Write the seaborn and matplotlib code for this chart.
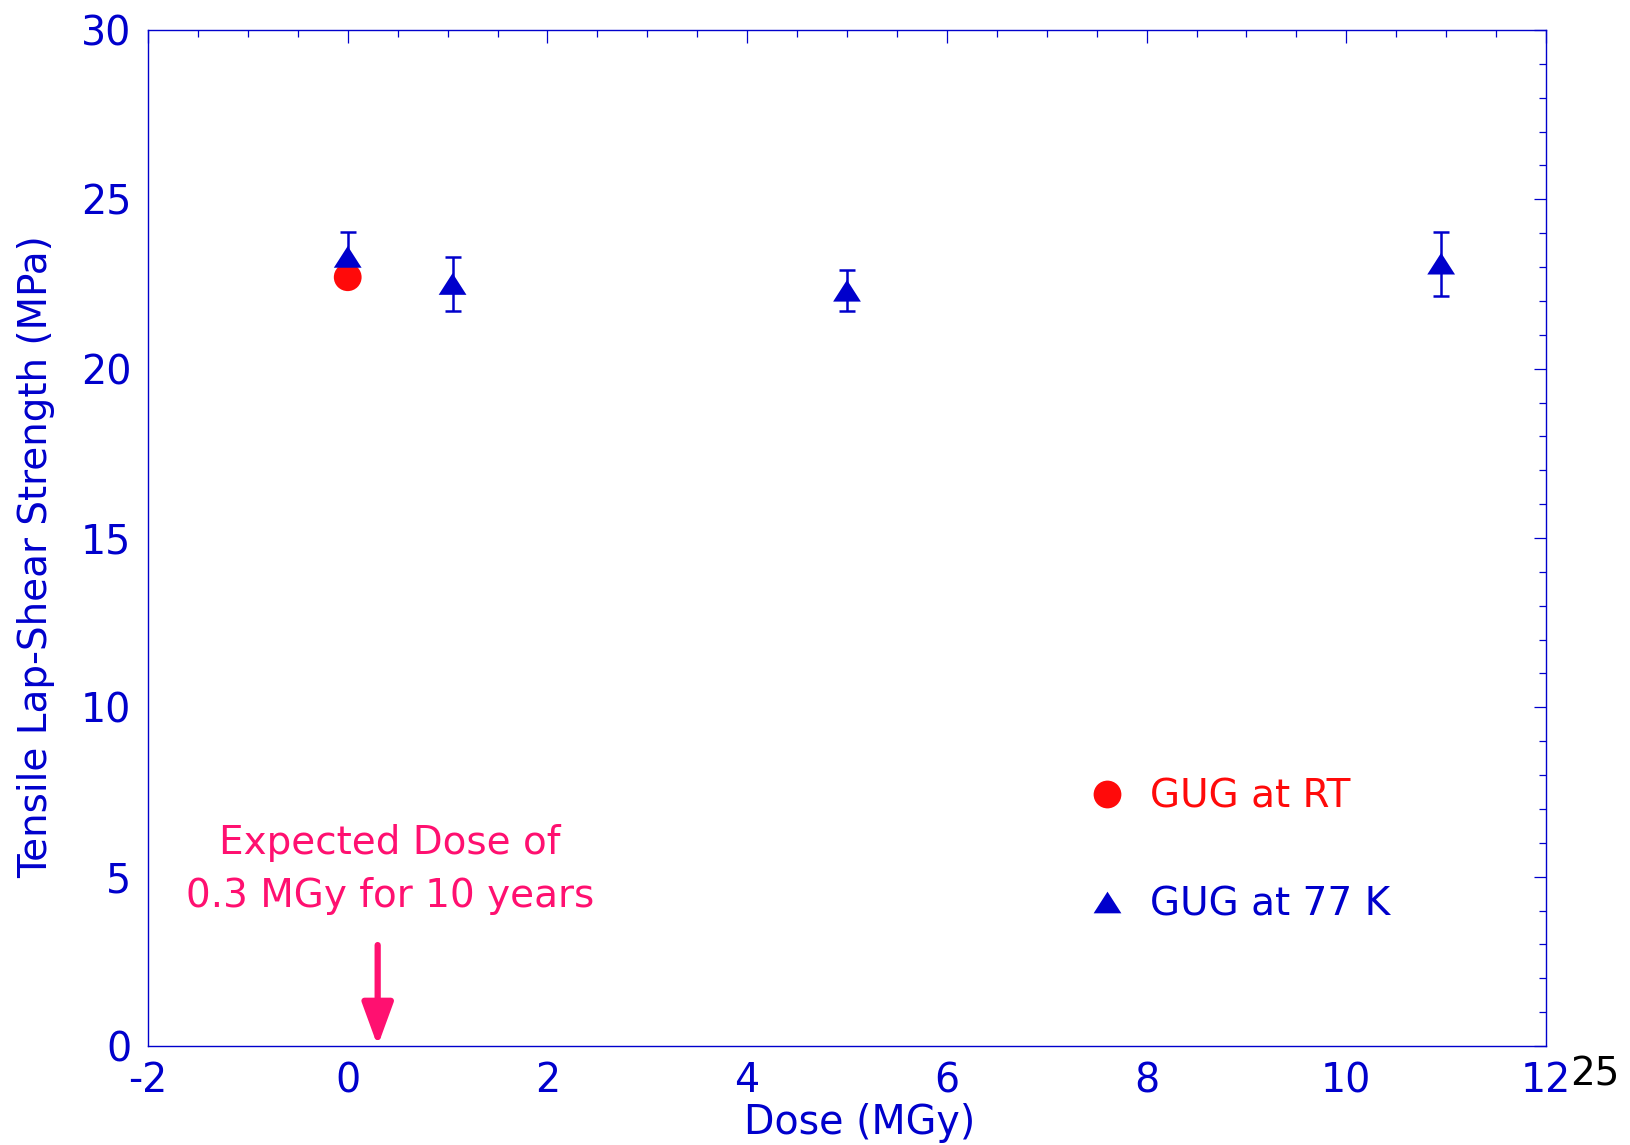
import matplotlib
matplotlib.use("Agg")
import matplotlib.pyplot as plt
import seaborn as sns
import pandas as pd
from matplotlib.ticker import MultipleLocator
from matplotlib.lines import Line2D

# ---- data ----
dose_rt = [0.0]
strength_rt = [22.7]

dose_77k = [0.0, 1.05, 5.0, 10.95]
strength_77k = [23.3, 22.5, 22.3, 23.1]
err_77k = [0.75, 0.8, 0.6, 0.95]

x_ticks = [-2, 0, 2, 4, 6, 8, 10, 12]
y_ticks = [0, 5, 10, 15, 20, 25, 30]

label_rt = "GUG at RT"
label_77k = "GUG at 77 K"
note_text = "Expected Dose of\n0.3 MGy for 10 years"
expected_dose = 0.3

BLUE = "#0000CC"
RED = "#FF0A0A"
PINK = "#FF1070"

sns.set_style("white")
plt.rcParams["font.family"] = ["DejaVu Sans"]
plt.rcParams["axes.unicode_minus"] = False

# wide, short triangle like the reference
TRI = [(-1.0, -0.78), (1.0, -0.78), (0.0, 0.78)]

fig = plt.figure(figsize=(16.3, 11.45), dpi=100)
ax = fig.add_axes([148 / 1630, 1 - 1046 / 1145, (1546 - 148) / 1630, (1046 - 30) / 1145])

df_rt = pd.DataFrame({"dose": dose_rt, "strength": strength_rt})
df_77 = pd.DataFrame({"dose": dose_77k, "strength": strength_77k, "err": err_77k})

# error bars (behind markers)
ax.errorbar(df_77["dose"], df_77["strength"], yerr=df_77["err"], fmt="none",
            ecolor=BLUE, elinewidth=1.8, capsize=6, capthick=1.8, zorder=2)

sns.scatterplot(data=df_rt, x="dose", y="strength", ax=ax, marker="o", s=400,
                color=RED, edgecolor="none", linewidth=0, zorder=3, legend=False)
sns.scatterplot(data=df_77, x="dose", y="strength", ax=ax, marker=TRI, s=400,
                color=BLUE, edgecolor="none", linewidth=0, zorder=4, legend=False)

ax.set_xlim(-2, 12)
ax.set_ylim(0, 30)
ax.set_xticks(x_ticks)
ax.set_yticks(y_ticks)
ax.xaxis.set_minor_locator(MultipleLocator(0.5))
ax.yaxis.set_minor_locator(MultipleLocator(1))
ax.tick_params(which="both", direction="in", top=True, right=True, color=BLUE,
               width=0.9, labelcolor=BLUE, labelsize=28.5)
ax.tick_params(which="major", length=9)
ax.tick_params(axis="x", which="major", pad=11)
ax.tick_params(axis="y", which="major", pad=12)
ax.tick_params(which="minor", length=5)
for s in ax.spines.values():
    s.set_color(BLUE)
    s.set_linewidth(1.0)
    s.set_visible(True)

ax.set_xlabel("Dose (MGy)", color=BLUE, fontsize=28.5, va="center")
ax.xaxis.set_label_coords(0.509, -(1123 - 1046) / 1016)
ax.set_ylabel("Tensile Lap-Shear Strength (MPa)", color=BLUE, fontsize=28, va="center")
ax.yaxis.set_label_coords((36 - 148) / 1398, 0.482)

handles = [
    Line2D([], [], marker="o", linestyle="none", markersize=20, color=RED, markeredgewidth=0),
    Line2D([], [], marker=TRI, linestyle="none", markersize=20, color=BLUE, markeredgewidth=0),
]
leg = ax.legend(handles, [label_rt, label_77k], loc="upper left",
                bbox_to_anchor=((1064 - 148) / 1398, 1 - (758 - 30) / 1016),
                frameon=False, fontsize=28, labelspacing=1.8, handletextpad=0.5,
                handlelength=1.2, borderpad=0)
for t, c in zip(leg.get_texts(), [RED, BLUE]):
    t.set_color(c)

ax.text(0.42, 5.22, note_text, color=PINK, fontsize=28, ha="center", va="center",
        linespacing=1.5)
ax.annotate("", xy=(expected_dose, 0.0), xytext=(expected_dose, 2.98),
            arrowprops=dict(arrowstyle="-|>,head_length=2.6,head_width=0.95",
                            color=PINK, lw=4.5, shrinkA=0, shrinkB=0))

fig.text(1595 / 1630, 1 - 1074 / 1145, "25", color="black", fontsize=28,
         ha="center", va="center")

fig.savefig("out.png", dpi=100)
